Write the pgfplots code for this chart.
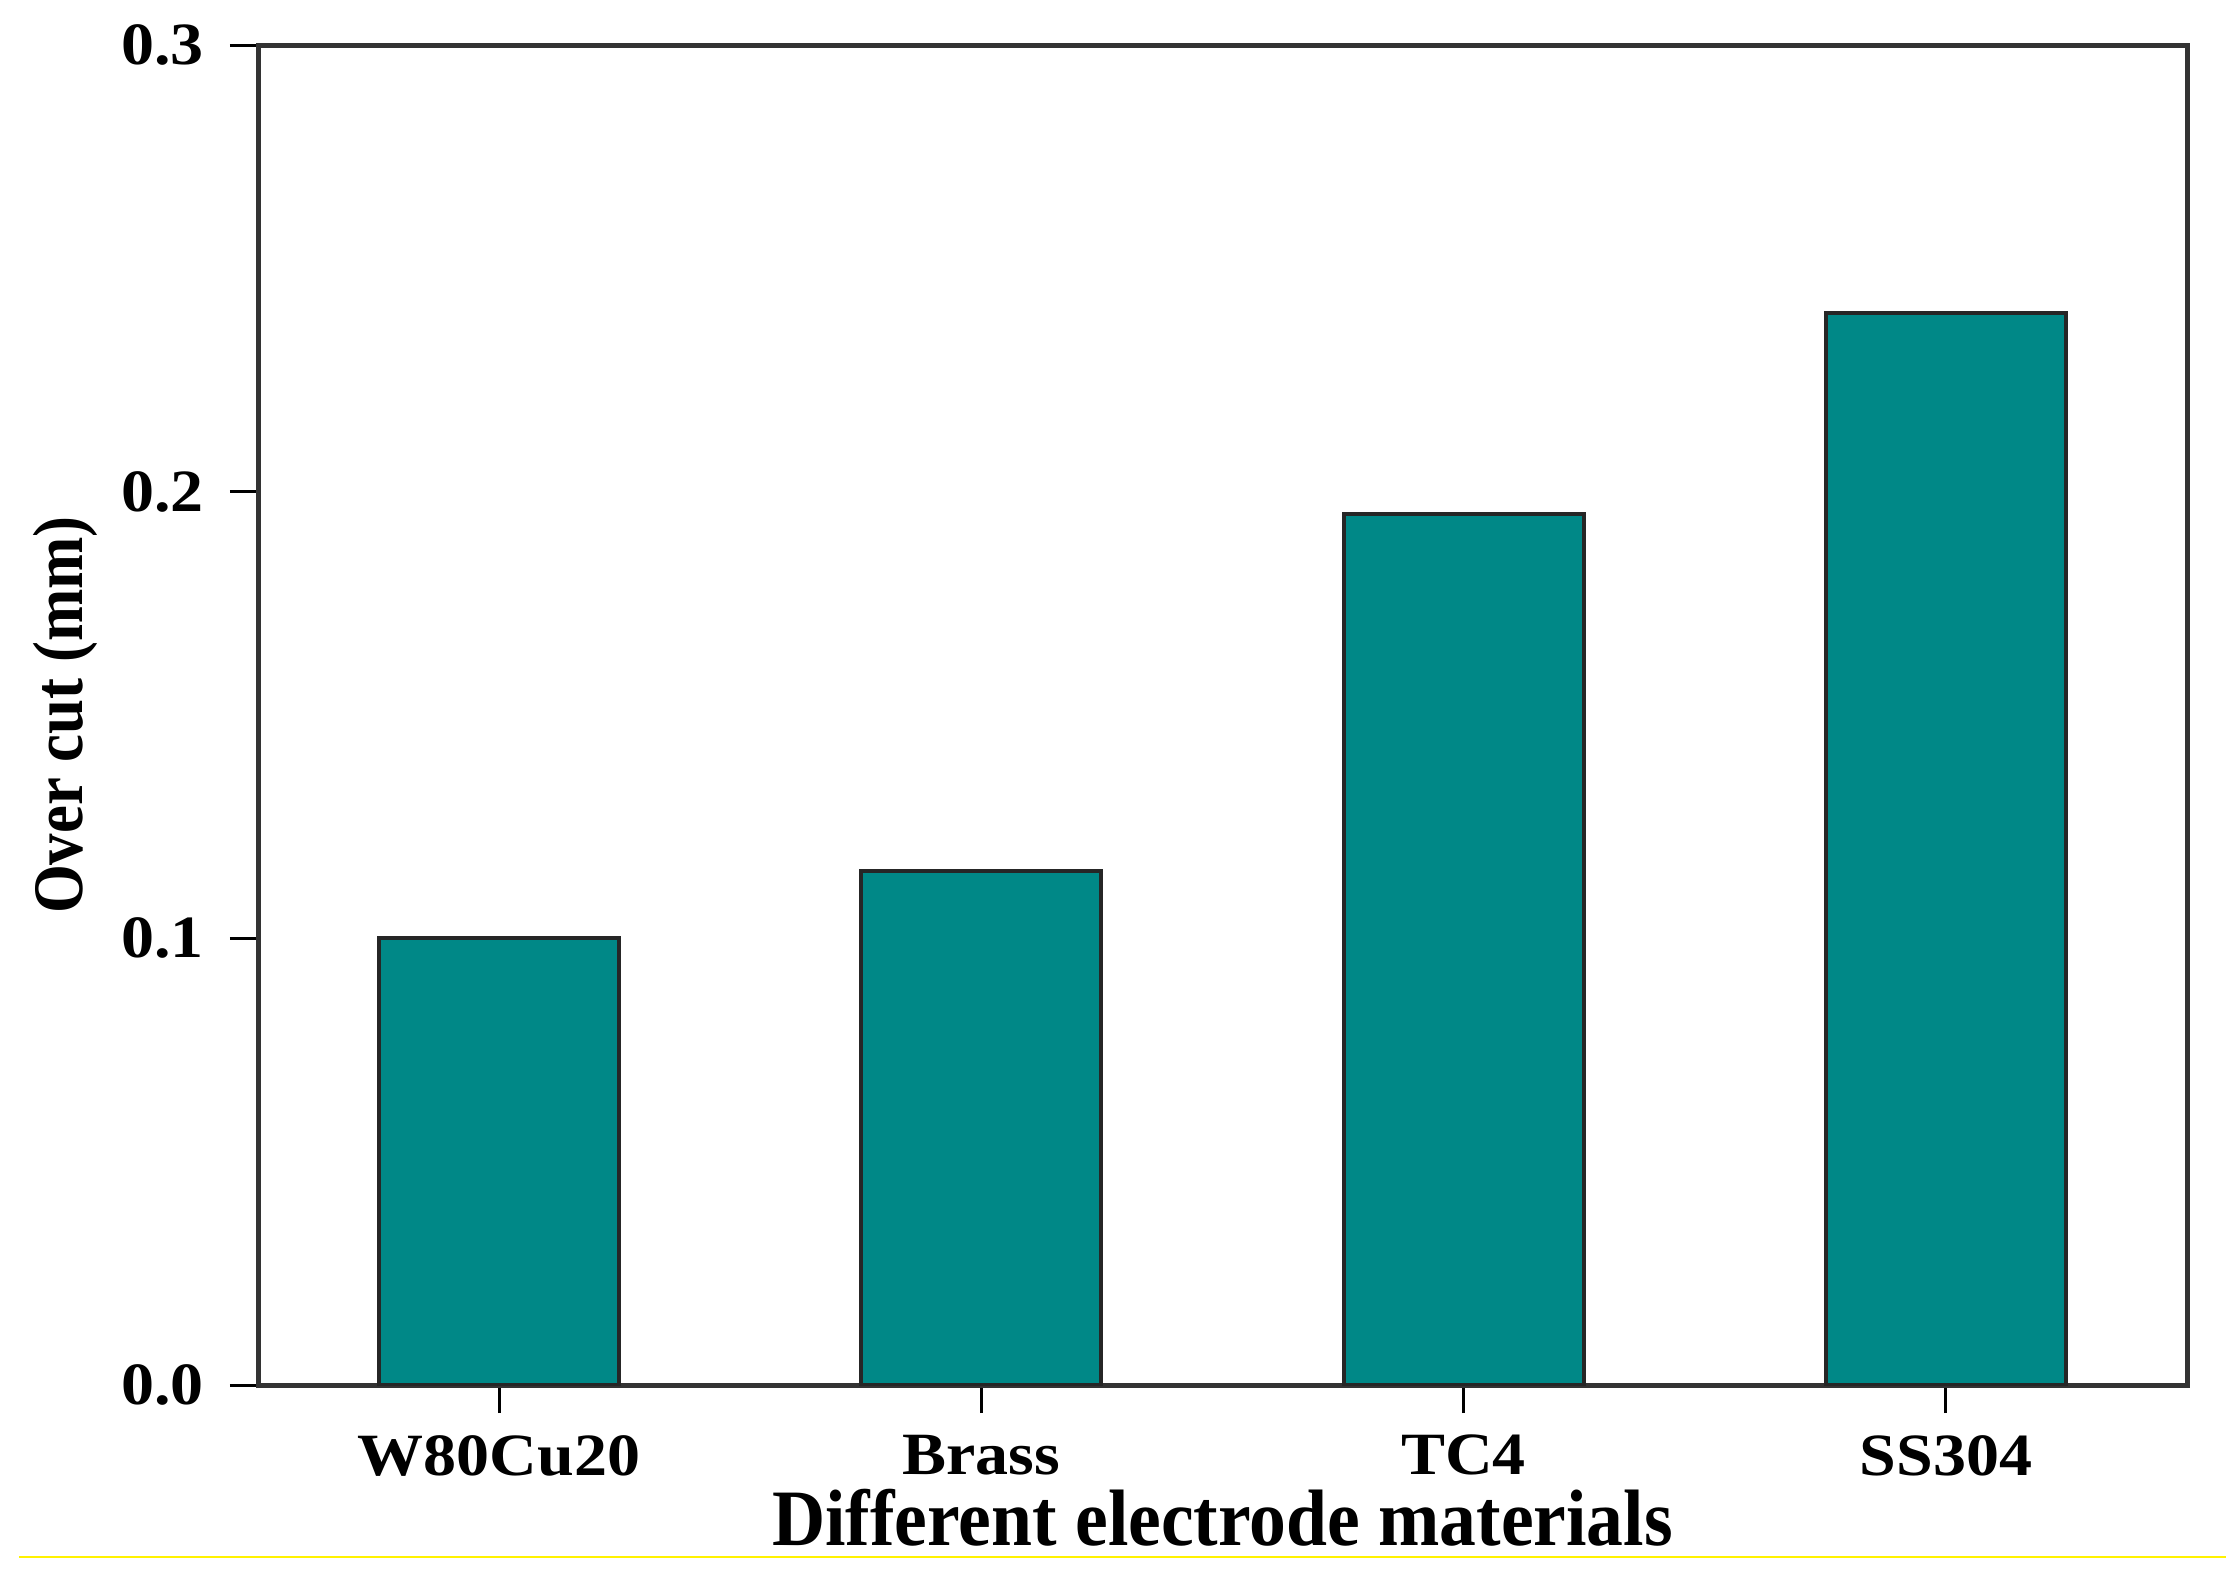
\documentclass[border=0pt]{standalone}
\usepackage{fontspec}
\setmainfont{Liberation Serif}
\newfontfamily\tickfont[FakeStretch=1.1]{Liberation Serif}
\newfontfamily\ylabfont[FakeStretch=0.885]{Liberation Serif}
\newfontfamily\xlabfont[FakeStretch=0.92]{Liberation Serif}
\usepackage{pgfplots}
\pgfplotsset{compat=1.18}
\definecolor{barteal}{RGB}{0,136,135}
\begin{document}
\begin{tikzpicture}
\path[use as bounding box] (-64.5pt,-47.5pt) rectangle (492pt,346.25pt);
\begin{axis}[
  at={(0,0)}, anchor=south west,
  scale only axis,
  width=482.25pt, height=335pt,
  xmin=-0.5, xmax=3.5,
  ymin=0, ymax=0.3,
  ytick={0,0.1,0.2,0.3},
  xtick={0,1,2,3},
  xticklabels={W80Cu20,Brass,TC4,SS304},
  axis line style={black!80, line width=1.25pt},
  tick style={black, line width=0.75pt},
  tick align=outside,
  major tick length=7pt,
  xtick pos=bottom, ytick pos=left,
  /pgf/number format/assume math mode=true,
  yticklabel style={font=\fontsize{15}{17}\tickfont\bfseries, xshift=-3pt, /pgf/number format/.cd, fixed, fixed zerofill, precision=1},
  xticklabel style={font=\fontsize{15}{17}\tickfont\bfseries, yshift=-2pt},
  every axis y label/.style={at={(axis description cs:-0.117,0.5)}, rotate=90, anchor=north, inner sep=0pt},
  every axis x label/.style={at={(axis description cs:0.5,-0.1194)}, anchor=base, inner sep=0pt},
  ylabel={\fontsize{17.75}{20}\ylabfont\bfseries Over cut (mm)},
  xlabel={\fontsize{20}{22}\xlabfont\bfseries Different electrode materials},
  ybar, bar width=60pt,
]
\addplot[fill=barteal, draw=black!85, line width=1pt] coordinates {(0,0.100) (1,0.115) (2,0.195) (3,0.240)};
\end{axis}
\draw[yellow, line width=0.5pt] (-59.75pt,-43pt) -- (492pt,-43pt);
\end{tikzpicture}
\end{document}
